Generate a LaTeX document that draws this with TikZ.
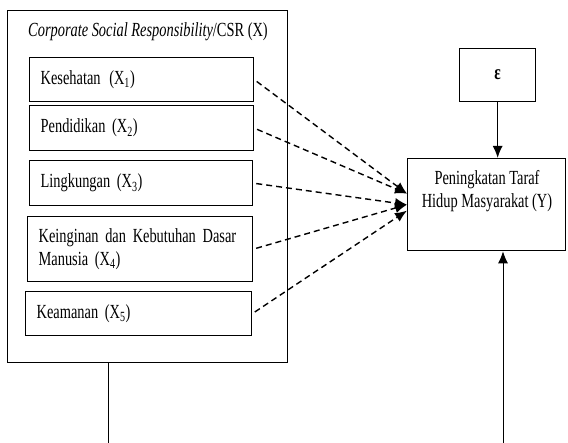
\documentclass[tikz,border=0pt]{standalone}
\usepackage{fontspec}
\setmainfont{Liberation Serif}[FakeStretch=0.72]
\usetikzlibrary{positioning, arrows.meta}

\newcommand{\hurufnode}{\fontsize{20}{23}\selectfont\spaceskip=3.6pt plus 1pt minus 1pt\relax}

\tikzset{
    kotak/.style={draw, line width=1.3pt, rectangle, anchor=north west},
    indikator/.style={kotak, inner xsep=11pt, align=left, text width=#1},
    putus/.style={dash pattern=on 6pt off 4pt, line width=1.4pt, shorten <=3pt}
}

\begin{document}
\begin{tikzpicture}[x=1pt, y=-1pt, font=\hurufnode,
        >={Latex[length=12pt, width=10pt]}, line width=1.3pt]
        \useasboundingbox (0,0) rectangle (568,443);

        % variabel X
        \node[kotak, minimum width=280pt, minimum height=352pt] (csr) at (7,10) {};
        \node (judul) at (148,32) {\textit{Corporate Social Responsibility}/CSR (X)};
        \node[indikator=202pt, minimum height=44pt] (x1) at (29,57) {Kesehatan\hspace{2pt} (X\textsubscript{1})};
        \node[indikator=202pt, minimum height=45pt] (x2) at (29,105) {Pendidikan (X\textsubscript{2})};
        \node[indikator=201pt, minimum height=45pt] (x3) at (29,160) {Lingkungan (X\textsubscript{3})};
        \node[indikator=203pt, minimum height=65pt] (x4) at (27,216) {Keinginan dan Kebutuhan Dasar\\Manusia (X\textsubscript{4})};
        \node[indikator=204pt, minimum height=44pt] (x5) at (25,291) {Keamanan (X\textsubscript{5})};

        % variabel Y dan error
        \node[kotak, minimum width=158pt, minimum height=92pt] (Y) at (407,158) {};
        \node[align=center] (ytext) at (487,191) {Peningkatan Taraf\\Hidup Masyarakat (Y)};
        \node[kotak, minimum width=76pt, minimum height=53pt] (eps) at (459,48) {\fontsize{21}{23}\selectfont\textbf{ε}};

        \coordinate (bawahX) at (108,443);
        \coordinate (bawahY) at (503,443);

        \draw[putus, ->] (x1.east) -- ([yshift=11pt]Y.west);
        \draw[putus, ->] (x2.east) -- ([yshift=11pt]Y.west);
        \draw[putus, ->] (x3.east) -- (Y.west);
        \draw[putus, ->] (x4.east) -- (Y.west);
        \draw[putus, ->] (x5.east) -- ([yshift=-6pt]Y.west);

        \draw[->] (eps.south) -- (eps.south |- Y.north);
        \draw[->, line width=1pt] (bawahY) -- (bawahY |- Y.south);
        \draw[line width=1pt] (csr.south -| bawahX) -- (bawahX);
    \end{tikzpicture}
\end{document}
